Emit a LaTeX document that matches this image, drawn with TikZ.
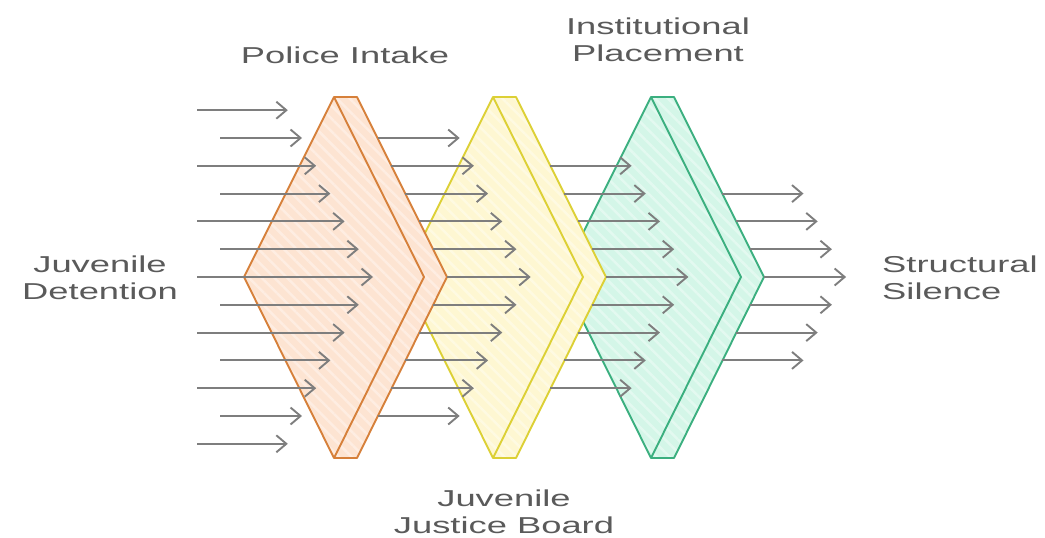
\documentclass[tikz,border=0pt]{standalone}
\usepackage{fontspec}
\newfontfamily\labelfont[FakeStretch=1.58]{Liberation Sans}
\usepackage{xcolor}
\usepackage{tikz}
\usetikzlibrary{arrows.meta}
\usetikzlibrary{patterns.meta}

\definecolor{intakeline}{HTML}{D6803A}
\definecolor{intakefill}{HTML}{FDE4D2}
\definecolor{boardline}{HTML}{DCD035}
\definecolor{boardfill}{HTML}{FEF7D2}
\definecolor{placeline}{HTML}{3BAF7F}
\definecolor{placefill}{HTML}{D4F6E8}
\definecolor{flowgray}{HTML}{7E7E7E}
\definecolor{textgray}{HTML}{5A5A5A}

\begin{document}
\begin{tikzpicture}[x=1pt,y=-1pt,
  flow/.style={draw=flowgray,line width=1.9pt,-{Straight Barb[length=10pt,width=17pt]}},
  edge/.style={line width=1.9pt,line join=round},
  stagetext/.style={font=\labelfont\fontsize{23}{27}\selectfont,text=textgray,align=center,inner sep=0pt}]
  \useasboundingbox (0,0) rectangle (1045,538);
  % institutional placement
  \begin{scope}[xshift=651pt]
    \fill[placefill] (0,97) -- (23,97) -- (113,277) -- (23,458) -- (0,458) -- (-90,277) -- cycle;
    \fill[pattern={Lines[angle=-45,distance=9pt,line width=2.5pt]},pattern color=placefill!65!white]
      (0,97) -- (23,97) -- (113,277) -- (23,458) -- (0,458) -- (-90,277) -- cycle;
    \draw[edge,placeline] (0,97) -- (23,97) -- (113,277) -- (23,458) -- (0,458) -- (-90,277) -- cycle;
    \draw[edge,placeline] (0,97) -- (90,277) -- (0,458);
  \end{scope}
  % juvenile justice board
  \begin{scope}[xshift=493pt]
    \fill[boardfill] (0,97) -- (23,97) -- (113,277) -- (23,458) -- (0,458) -- (-90,277) -- cycle;
    \fill[pattern={Lines[angle=-45,distance=9pt,line width=2.5pt]},pattern color=boardfill!65!white]
      (0,97) -- (23,97) -- (113,277) -- (23,458) -- (0,458) -- (-90,277) -- cycle;
    \draw[edge,boardline] (0,97) -- (23,97) -- (113,277) -- (23,458) -- (0,458) -- (-90,277) -- cycle;
    \draw[edge,boardline] (0,97) -- (90,277) -- (0,458);
  \end{scope}
  % police intake
  \begin{scope}[xshift=334pt]
    \fill[intakefill] (0,97) -- (23,97) -- (113,277) -- (23,458) -- (0,458) -- (-90,277) -- cycle;
    \fill[pattern={Lines[angle=-45,distance=9pt,line width=2.5pt]},pattern color=intakefill!65!white]
      (0,97) -- (23,97) -- (113,277) -- (23,458) -- (0,458) -- (-90,277) -- cycle;
    \draw[edge,intakeline] (0,97) -- (23,97) -- (113,277) -- (23,458) -- (0,458) -- (-90,277) -- cycle;
    \draw[edge,intakeline] (0,97) -- (90,277) -- (0,458);
  \end{scope}
  % incoming flow
  \foreach \k in {-6,...,6} {
    \pgfmathsetmacro\tail{ifthenelse(mod(abs(\k),2)==1,220,197)}
    \draw[flow] (\tail,{277+27.8*\k}) -- ({373-14.2*abs(\k)},{277+27.8*\k});
  }
  % flow after each stage
  \foreach \g/\T in {1/334,2/493,3/651} {
    \pgfmathtruncatemacro\n{6-\g}
    \foreach \k in {-\n,...,\n}
      \draw[flow] ({\T+113-13.9*abs(\k)},{277+27.8*\k}) -- ({373+157.7*\g-14.2*abs(\k)},{277+27.8*\k});
  }
  % labels
  \node[stagetext] (detention) at (100,278) {Juvenile\\Detention};
  \node[stagetext,align=left,anchor=west] (silence) at (882,278) {Structural\\Silence};
  \node[stagetext] (intake) at (345,55) {Police Intake};
  \node[stagetext] (placement) at (658,40) {Institutional\\Placement};
  \node[stagetext] (board) at (504,512) {Juvenile\\Justice Board};
\end{tikzpicture}
\end{document}
